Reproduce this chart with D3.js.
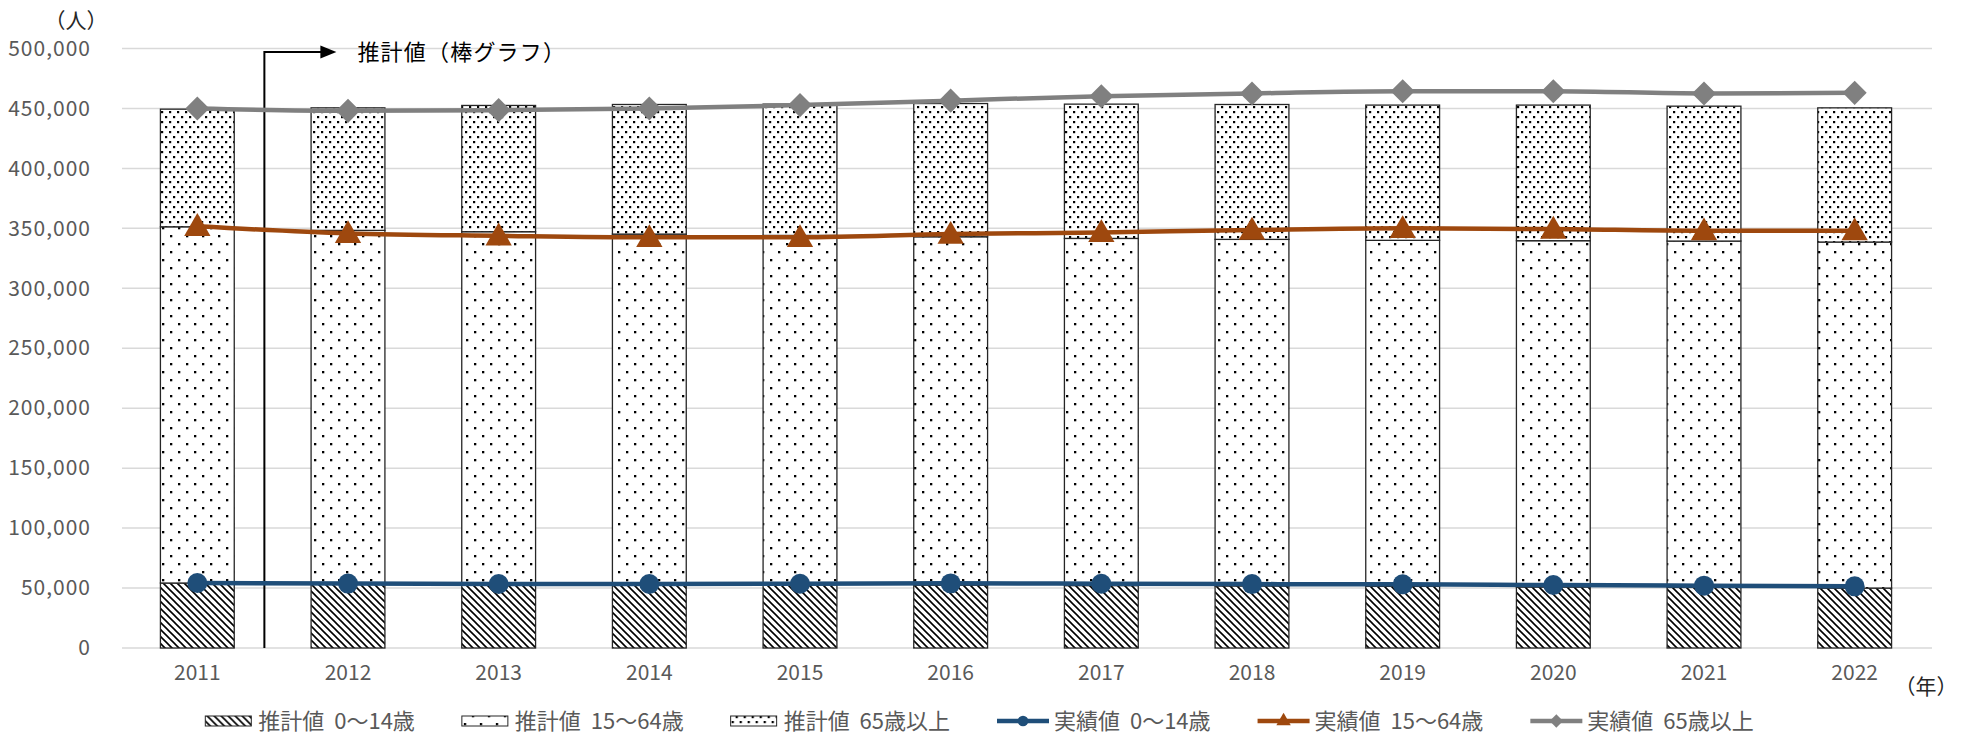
<!DOCTYPE html>
<html>
<head>
<meta charset="utf-8">
<script src="https://cdn.jsdelivr.net/npm/d3@7"></script>
<style>
  body { margin: 0; background: #fff; }
  svg { display: block; font-family: "Noto Sans CJK JP", "Noto Sans", sans-serif; }
</style>
</head>
<body>
<svg id="chart"></svg>
<script>
// categories
const years = ['2011', '2012', '2013', '2014', '2015', '2016', '2017', '2018', '2019', '2020', '2021', '2022'];

// estimated values (bars), by age group
const estYoung = [54200, 53600, 53300, 53100, 52800, 52500, 52100, 51800, 51400, 50900, 50500, 50000];
const estWork = [297100, 294700, 293900, 292100, 291300, 290500, 289500, 289000, 288600, 288800, 288900, 288600];
const estOld = [98100, 102200, 105300, 108100, 109500, 111100, 112000, 112500, 112800, 113100, 112500, 111900];

// actual values (lines), by age group, plotted stacked
const actYoung = [54200, 53700, 53400, 53400, 53600, 53900, 53600, 53300, 53100, 52500, 52000, 51400];
const actWork = [297500, 292100, 290400, 289100, 288900, 291300, 293000, 295300, 296900, 296900, 296000, 296600];
const actOld = [98300, 102200, 104800, 107500, 110300, 111300, 113600, 113900, 114400, 115000, 114500, 115000];

const yTicks = [0, 50000, 100000, 150000, 200000, 250000, 300000, 350000, 400000, 450000, 500000];

const barNames = ['推計値 0～14歳', '推計値 15～64歳', '推計値 65歳以上'];
const lineNames = ['実績値 0～14歳', '実績値 15～64歳', '実績値 65歳以上'];
const lineColors = ['#1f4e79', '#9e480e', '#808080'];
const markerTypes = [d3.symbolCircle, d3.symbolTriangle, d3.symbolSquare];

const width = 1968;
const height = 734;
const margin = { top: 48, right: 36, bottom: 86, left: 122 };

const svg = d3.select('#chart')
  .attr('width', width)
  .attr('height', height);

// fill patterns
const defs = svg.append('defs');

const hatch = defs.append('pattern')
  .attr('id', 'pat-young')
  .attr('patternUnits', 'userSpaceOnUse')
  .attr('width', 7).attr('height', 7);
hatch.append('rect').attr('width', 7).attr('height', 7).attr('fill', '#fff');
hatch.append('path')
  .attr('d', 'M-1,-1L8,8M-1,6L1,8M6,-1L8,1')
  .attr('stroke', '#000')
  .attr('stroke-width', 1.6);

const sparse = defs.append('pattern')
  .attr('id', 'pat-work')
  .attr('patternUnits', 'userSpaceOnUse')
  .attr('width', 16).attr('height', 16);
sparse.append('rect').attr('width', 16).attr('height', 16).attr('fill', '#fff');
sparse.append('rect').attr('x', 2).attr('y', 3).attr('width', 2.3).attr('height', 2.3).attr('fill', '#000');
sparse.append('rect').attr('x', 10).attr('y', 11).attr('width', 2.3).attr('height', 2.3).attr('fill', '#000');

const dense = defs.append('pattern')
  .attr('id', 'pat-old')
  .attr('patternUnits', 'userSpaceOnUse')
  .attr('width', 8).attr('height', 10);
dense.append('rect').attr('width', 8).attr('height', 10).attr('fill', '#fff');
dense.append('rect').attr('x', 1).attr('y', 1).attr('width', 2.2).attr('height', 2.2).attr('fill', '#000');
dense.append('rect').attr('x', 5).attr('y', 6).attr('width', 2.2).attr('height', 2.2).attr('fill', '#000');

const patterns = ['url(#pat-young)', 'url(#pat-work)', 'url(#pat-old)'];

// scales
const x = d3.scaleBand()
  .domain(years)
  .range([margin.left, width - margin.right - 2])
  .paddingInner(0.51)
  .paddingOuter(0.255);

const y = d3.scaleLinear()
  .domain([0, 500000])
  .range([height - margin.bottom, margin.top + 0.5]);

// gridlines
svg.append('g')
  .selectAll('line')
  .data(yTicks)
  .enter().append('line')
  .attr('x1', margin.left)
  .attr('x2', width - margin.right)
  .attr('y1', d => y(d))
  .attr('y2', d => y(d))
  .attr('stroke', '#d9d9d9')
  .attr('stroke-width', 1.5);

// y axis labels
const yAxis = svg.append('g')
  .attr('transform', `translate(${margin.left - 31},0)`)
  .call(d3.axisLeft(y).tickValues(yTicks).tickSize(0).tickPadding(0).tickFormat(d3.format(',')));
yAxis.select('.domain').remove();
yAxis.selectAll('text')
  .attr('font-size', 21)
  .attr('font-family', '"Noto Sans CJK JP", sans-serif')
  .attr('letter-spacing', 1)
  .attr('fill', '#595959');

// x axis labels
const xAxis = svg.append('g')
  .attr('transform', `translate(0,${height - margin.bottom})`)
  .call(d3.axisBottom(x).tickSize(0).tickPadding(17));
xAxis.select('.domain').remove();
xAxis.selectAll('text')
  .attr('font-size', 21)
  .attr('font-family', '"Noto Sans CJK JP", sans-serif')
  .attr('fill', '#595959');

// stacked bars
const barRows = years.map((yr, i) => ({ year: yr, young: estYoung[i], work: estWork[i], old: estOld[i] }));
const barStack = d3.stack().keys(['young', 'work', 'old'])(barRows);

svg.append('g')
  .selectAll('g')
  .data(barStack)
  .enter().append('g')
  .attr('fill', (d, i) => patterns[i])
  .selectAll('rect')
  .data(d => d)
  .enter().append('rect')
  .attr('x', d => x(d.data.year))
  .attr('y', d => y(d[1]))
  .attr('width', x.bandwidth())
  .attr('height', d => y(d[0]) - y(d[1]))
  .attr('stroke', '#262626')
  .attr('stroke-width', 1.3);

// annotation arrow for the bar chart
const annX = x('2011') + x.bandwidth() / 2 + x.step() * 0.445;
const annY = y(500000) + 3.5;
const ann = svg.append('g');
ann.append('path')
  .attr('d', `M${annX},${y(0)}V${annY}H${annX + 58}`)
  .attr('fill', 'none')
  .attr('stroke', '#000')
  .attr('stroke-width', 2);
ann.append('path')
  .attr('d', `M${annX + 56},${annY - 6.5}L${annX + 72},${annY}L${annX + 56},${annY + 6.5}Z`)
  .attr('fill', '#000');
ann.append('text')
  .attr('x', annX + 93)
  .attr('y', annY)
  .attr('dy', '0.36em')
  .attr('font-size', 22)
  .attr('letter-spacing', 1.2)
  .attr('fill', '#000')
  .text('推計値（棒グラフ）');

// stacked lines for actual values
const lineRows = years.map((yr, i) => ({ year: yr, young: actYoung[i], work: actWork[i], old: actOld[i] }));
const lineStack = d3.stack().keys(['young', 'work', 'old'])(lineRows);

const line = d3.line()
  .x(d => x(d.data.year) + x.bandwidth() / 2)
  .y(d => y(d[1]))
  .curve(d3.curveMonotoneX);

const markerSizes = [314, 300, 290];

lineStack.forEach((series, i) => {
  svg.append('path')
    .datum(series)
    .attr('fill', 'none')
    .attr('stroke', lineColors[i])
    .attr('stroke-width', 4.5)
    .attr('d', line);
  svg.append('g')
    .selectAll('path')
    .data(series)
    .enter().append('path')
    .attr('transform', d => `translate(${x(d.data.year) + x.bandwidth() / 2},${y(d[1]) + (i === 1 ? 2 : 0)})` + (i === 2 ? ' rotate(45)' : ''))
    .attr('d', d3.symbol().type(markerTypes[i]).size(markerSizes[i]))
    .attr('fill', lineColors[i]);
});

// units
svg.append('text')
  .attr('x', 76)
  .attr('y', 20)
  .attr('dy', '0.36em')
  .attr('text-anchor', 'middle')
  .attr('font-size', 21)
  .attr('fill', '#262626')
  .text('（人）');

svg.append('text')
  .attr('x', 1926)
  .attr('y', 686)
  .attr('dy', '0.36em')
  .attr('text-anchor', 'middle')
  .attr('font-size', 21)
  .attr('fill', '#262626')
  .text('（年）');

// legend
const legendItems = barNames.map((n, i) => ({ name: n, kind: 'bar', i }))
  .concat(lineNames.map((n, i) => ({ name: n, kind: 'line', i })));

const legend = svg.append('g').attr('class', 'legend');
const legendY = 721;
const legendGap = 42;
let cursor = 0;
legendItems.forEach(item => {
  const g = legend.append('g');
  if (item.kind === 'bar') {
    g.append('rect')
      .attr('x', 0)
      .attr('y', legendY - 5)
      .attr('width', 46)
      .attr('height', 10)
      .attr('fill', patterns[item.i])
      .attr('stroke', '#262626')
      .attr('stroke-width', 1);
  } else {
    g.append('line')
      .attr('x1', 0)
      .attr('x2', 52)
      .attr('y1', legendY)
      .attr('y2', legendY)
      .attr('stroke', lineColors[item.i])
      .attr('stroke-width', 4.5);
    g.append('path')
      .attr('transform', `translate(26,${legendY})` + (item.i === 2 ? ' rotate(45)' : ''))
      .attr('d', d3.symbol().type(markerTypes[item.i]).size(90))
      .attr('fill', lineColors[item.i]);
  }
  const tx = item.kind === 'bar' ? 53 : 57;
  const t = g.append('text')
    .attr('x', tx)
    .attr('y', legendY)
    .attr('dy', '0.36em')
    .attr('font-size', 22)
    .attr('word-spacing', 5)
    .attr('fill', '#595959')
    .text(item.name);
  const w = tx + t.node().getComputedTextLength() + 5;
  g.attr('transform', `translate(${cursor},0)`);
  cursor += w + legendGap;
});
const legendWidth = cursor - legendGap;
legend.attr('transform', `translate(${(width - legendWidth) / 2 - 2},0)`);
</script>
</body>
</html>
